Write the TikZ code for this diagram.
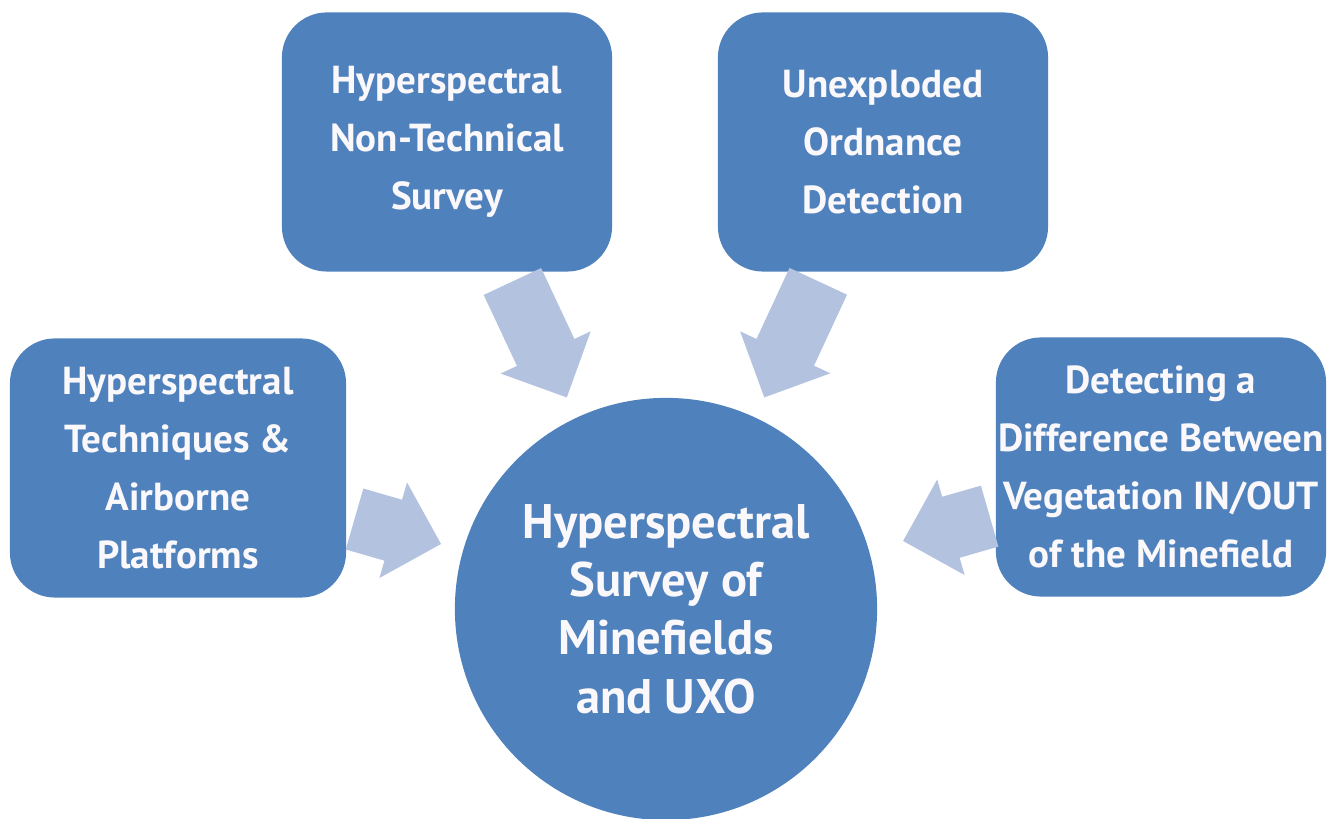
\documentclass[tikz,border=0pt]{standalone}
\usepackage{fontspec}
\setmainfont{PT Sans}
\usetikzlibrary{shapes.arrows}
\definecolor{boxblue}{RGB}{79,129,189}
\definecolor{arrowblue}{RGB}{179,195,223}
\definecolor{textwhite}{RGB}{250,248,250}
\tikzset{
  topic/.style={shape=rectangle, rounded corners=0.45cm, fill=boxblue, text=textwhite,
    minimum width=3.3cm, minimum height=2.59cm, align=center, inner sep=0pt,
    font=\fontsize{11.1}{16.5}\selectfont\bfseries},
  hub/.style={shape=circle, fill=boxblue, text=textwhite, minimum size=4.22cm,
    inner sep=0pt, align=center, font=\fontsize{13.8}{16.6}\selectfont\bfseries},
  feed/.style={single arrow, fill=arrowblue, sloped, allow upside down, anchor=tip,
    inner xsep=0pt, inner ysep=0.31cm, outer sep=0pt,
    single arrow head extend=0.18cm, minimum width=0.98cm}
}
\begin{document}
\begin{tikzpicture}[x=0.01cm,y=-0.01cm]
    \useasboundingbox (0,0) rectangle (1329,819);
    % outer topics
    \node[topic] (NTS) at (447,142) {Hyperspectral\\Non-Technical\\Survey};
    \node[topic] (UXO) at (883,142) {Unexploded\\Ordnance\\Detection};
    \node[topic,minimum width=3.36cm] (HTA) at (178,468) {Hyperspectral\\Techniques \&\\Airborne\\Platforms};
    \node[topic] (VEG) at (1161,467) {Detecting a\\Difference Between\\Vegetation IN/OUT\\of the Minefield};
    % centre
    \node[hub] (HSM) at (666,609) {Hyperspectral\\Survey of\\Minefields\\and UXO};
    % block arrows
    \path (NTS.center) -- (HSM.center) node[feed,pos=0.547,minimum height=1.28cm]{};
    \path (UXO.center) -- (HSM.center) node[feed,pos=0.547,minimum height=1.28cm]{};
    \path (HTA.center) -- (HSM.center) node[feed,pos=0.539,minimum height=0.9cm]{};
    \path (VEG.center) -- (HSM.center) node[feed,pos=0.521,minimum height=0.9cm]{};
\end{tikzpicture}
\end{document}
